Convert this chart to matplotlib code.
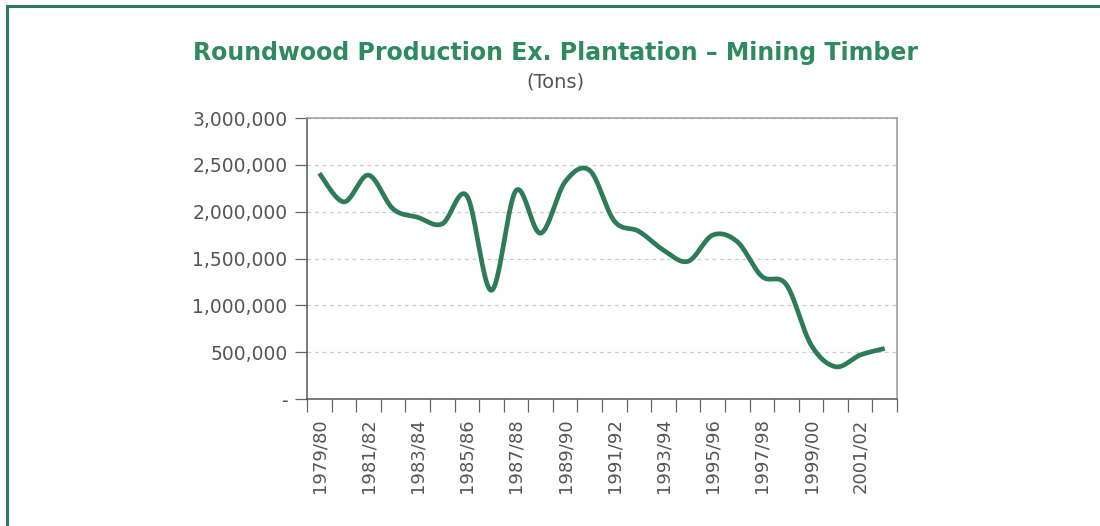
import numpy as np
import matplotlib.pyplot as plt
from matplotlib.lines import Line2D
from matplotlib.ticker import FuncFormatter, MultipleLocator

# Mining timber production per season (tons)
seasons = ["1979/80", "1980/81", "1981/82", "1982/83", "1983/84", "1984/85",
           "1985/86", "1986/87", "1987/88", "1988/89", "1989/90", "1990/91",
           "1991/92", "1992/93", "1993/94", "1994/95", "1995/96", "1996/97",
           "1997/98", "1998/99", "1999/00", "2000/01", "2001/02", "2002/03"]
tons = [2410000, 2105000, 2390000, 2030000, 1940000, 1870000,
        2170000, 1160000, 2225000, 1770000, 2320000, 2440000,
        1900000, 1790000, 1590000, 1470000, 1750000, 1680000,
        1310000, 1220000, 580000, 345000, 470000, 540000]

GREEN = "#2e7b57"
TEXT = "#555555"


def smooth_line(x, y, steps=24):
    # Catmull-Rom spline through every point (smoothed line style)
    x = np.asarray(x, float)
    y = np.asarray(y, float)
    px = np.concatenate([[x[0]], x, [x[-1]]])
    py = np.concatenate([[y[0]], y, [y[-1]]])
    xs, ys = [], []
    t = np.linspace(0, 1, steps, endpoint=False)
    for i in range(1, len(px) - 2):
        for p, out in ((px, xs), (py, ys)):
            p0, p1, p2, p3 = p[i - 1], p[i], p[i + 1], p[i + 2]
            out.extend(0.5 * (2 * p1 + (-p0 + p2) * t
                              + (2 * p0 - 5 * p1 + 4 * p2 - p3) * t ** 2
                              + (-p0 + 3 * p1 - 3 * p2 + p3) * t ** 3))
    xs.append(x[-1])
    ys.append(y[-1])
    return np.array(xs), np.array(ys)


fig = plt.figure(figsize=(11, 5.26), dpi=100)
ax = fig.add_axes([0.2791, 0.2414, 0.5364, 0.5342])

idx = np.arange(len(seasons))
sx, sy = smooth_line(idx, tons)
ax.plot(sx, sy, color=GREEN, lw=3.4, solid_capstyle="butt", zorder=3)

ax.set_xlim(-0.5, len(seasons) - 0.5)
ax.set_ylim(0, 3000000)

# y axis
ax.yaxis.set_major_locator(MultipleLocator(500000))
ax.yaxis.set_major_formatter(FuncFormatter(lambda v, p: f"{v:,.0f}" if v > 0 else "-"))
ax.grid(axis="y", color="#cccccc", lw=0.9, ls=(0, (3, 3)), zorder=0)

# x axis: ticks on category boundaries, labels on every other category
ax.set_xticks(np.arange(-0.5, len(seasons), 1.0))
ax.set_xticklabels([])
ax.set_xticks(idx[::2], minor=True)
ax.set_xticklabels(seasons[::2], minor=True, rotation=90)
ax.tick_params(axis="x", which="minor", length=0, pad=14)
ax.tick_params(axis="x", which="major", length=9, width=0.9, color="#666666")
ax.tick_params(axis="y", length=9, width=0.9, color="#666666", pad=5)
for lab in ax.get_xticklabels(minor=True):
    lab.set_fontsize(13)
    lab.set_color(TEXT)
for lab in ax.get_yticklabels():
    lab.set_fontsize(13.5)
    lab.set_color(TEXT)

for side in ("left", "bottom"):
    ax.spines[side].set_color("#555555")
    ax.spines[side].set_linewidth(1.1)
for side in ("top", "right"):
    ax.spines[side].set_color("#999999")
    ax.spines[side].set_linewidth(1.1)

fig.text(0.505, 0.899, "Roundwood Production Ex. Plantation \u2013 Mining Timber",
         ha="center", va="center", fontsize=17, fontweight="bold", color="#2f8a5e")
fig.text(0.505, 0.845, "(Tons)", ha="center", va="center", fontsize=14, color=TEXT)

# green frame along top and left edges
fig.add_artist(Line2D([0.0064, 1.0], [0.9895, 0.9895], color="#2f7a5e", lw=2.2))
fig.add_artist(Line2D([0.0064, 0.0064], [0.0, 0.9895], color="#2f7a5e", lw=2.2))

fig.savefig("out.png", dpi=100)
